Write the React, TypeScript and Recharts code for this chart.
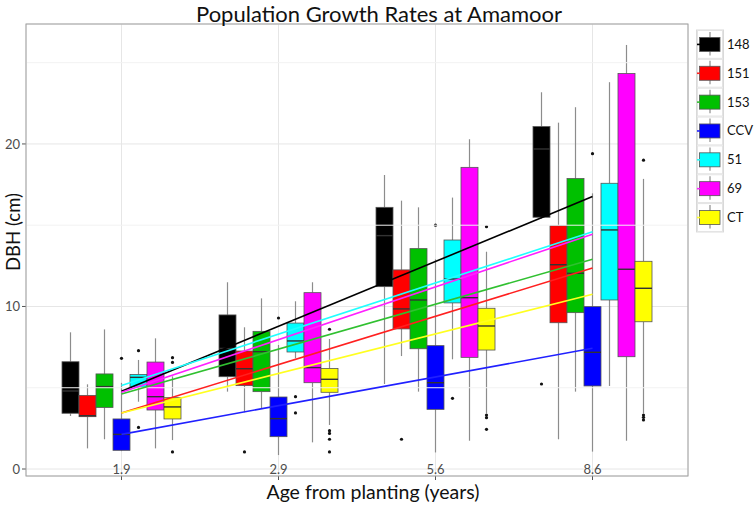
import React from 'react';
import {
  ComposedChart,
  Bar,
  Line,
  XAxis,
  YAxis,
  CartesianGrid,
  ReferenceLine,
} from 'recharts';

const ages = ['1.9', '2.9', '5.6', '8.6'];
const populations = ['148', '151', '153', 'CCV', '51', '69', 'CT'];
const boxColors = ['#000000', '#ff0000', '#00c000', '#0000ff', '#00ffff', '#ff00ff', '#ffff00'];
const lineColors = ['#000000', '#ff2020', '#30c030', '#2020ff', '#20ffff', '#ff20ff', '#ffff20'];

// [lower whisker, q1, median, q3, upper whisker] per age
const stats148 = [[3.26, 3.43, 4.8, 6.6, 8.41], [4.76, 5.68, 7.42, 9.48, 11.49], [5.23, 11.22, 14.36, 16.1, 18.09], [15.4, 15.49, 19.69, 21.07, 23.18]];
const stats151 = [[1.27, 3.22, 3.28, 4.53, 5.21], [3.49, 5.13, 6.17, 7.26, 8.72], [6.95, 8.62, 9.85, 12.25, 16.51], [1.83, 9.0, 12.57, 14.97, 21.31]];
const stats153 = [[1.83, 3.79, 5.07, 5.85, 8.59], [3.73, 4.76, 7.22, 8.47, 10.5], [4.76, 7.4, 10.4, 13.56, 16.1], [4.76, 9.62, 12.04, 17.87, 22.26]];
const statsCCV = [[1.1, 1.15, 2.13, 3.08, 5.3], [0.86, 1.99, 3.1, 4.43, 7.63], [1.02, 3.67, 5.31, 7.59, 12.9], [1.07, 5.11, 7.18, 9.99, 16.96]];
const stats51 = [[4.14, 5.03, 5.64, 5.82, 6.71], [6.81, 7.2, 7.88, 8.98, 10.32], [6.75, 10.22, 11.69, 14.09, 16.7], [5.11, 10.4, 14.71, 17.58, 23.8]];
const stats69 = [[1.27, 3.63, 4.45, 6.58, 8.04], [1.64, 5.31, 6.24, 10.85, 11.49], [1.74, 6.87, 10.54, 18.56, 20.29], [1.74, 6.91, 12.29, 24.33, 26.09]];
const statsCT = [[1.78, 3.08, 3.82, 4.39, 5.7], [2.71, 4.72, 5.52, 6.19, 8.0], [3.43, 7.32, 8.8, 9.89, 13.37], [3.43, 9.06, 11.12, 12.78, 17.85]];

const out148 = [[], [], [], [5.23]];
const out151 = [[], [1.05], [1.83], []];
const out153 = [[], [], [], []];
const outCCV = [[6.81], [9.29], [15.0], [19.4]];
const out51 = [[7.28, 2.56], [4.45, 3.45], [4.35], []];
const out69 = [[], [], [], []];
const outCT = [[6.85, 6.56, 1.05], [8.6, 2.36, 2.19, 1.83, 1.05], [14.91, 3.32, 3.16, 2.44], [19.0, 3.32, 3.18, 3.02]];

// fitted trend line at first and last age
const fitStart = [4.79, 3.45, 4.61, 2.13, 5.14, 4.72, 3.45];
const fitEnd = [16.76, 12.37, 12.9, 7.43, 14.6, 14.45, 10.75];

const allStats = [stats148, stats151, stats153, statsCCV, stats51, stats69, statsCT];
const allOutliers = [out148, out151, out153, outCCV, out51, out69, outCT];

const yTicks = [0, 10, 20];
const yMinor = [5, 15, 25];

const data = ages.map((age, i) => {
  const row: any = { age };
  populations.forEach((p, j) => {
    const s = allStats[j][i];
    row[p] = [s[1], s[3]];
    row['s' + p] = s;
    row['o' + p] = allOutliers[j][i];
    row['fit' + p] = i === 0 ? fitStart[j] : i === ages.length - 1 ? fitEnd[j] : null;
  });
  return row;
});

const makeBox = (p: string) => (props: any) => {
  const { x, y, width, height, fill, payload } = props;
  const s = payload['s' + p];
  const outs: number[] = payload['o' + p];
  const top = Math.min(y, y + height);
  const h = Math.abs(height);
  const k = h / (s[3] - s[1]);
  const py = (v: number) => top + (s[3] - v) * k;
  const cx = x + width / 2;
  return (
    <g>
      <line x1={cx} x2={cx} y1={py(s[4])} y2={top} stroke="#8c8c8c" strokeWidth={1.2} />
      <line x1={cx} x2={cx} y1={top + h} y2={py(s[0])} stroke="#8c8c8c" strokeWidth={1.2} />
      <rect x={x} y={top} width={width} height={h} fill={fill} stroke="#555" strokeWidth={0.8} />
      <line x1={x} x2={x + width} y1={py(s[2])} y2={py(s[2])} stroke="#333" strokeWidth={1.4} />
      {outs.map((v, i) => (
        <circle key={i} cx={cx} cy={py(v)} r={1.6} fill="#111" />
      ))}
    </g>
  );
};

const XTick = (props: any) => {
  const { x, y, payload } = props;
  return (
    <text x={x} y={y} dy={-8} textAnchor="middle" fontSize={13} fill="#4d4d4d" fontFamily="Lato">
      {payload.value}
    </text>
  );
};

const FONT = 'Lato, "DejaVu Sans", sans-serif';

export default function App() {
  const cellH = 28.85;
  return (
    <div style={{ position: 'absolute', left: 0, top: 0, width: 755, height: 506, background: '#fff' }}>
      <ComposedChart
        width={755}
        height={506}
        data={data}
        margin={{ top: 24, right: 67, bottom: 0, left: 0 }}
        barGap={0}
      >
        <CartesianGrid stroke="#e6e6e6" />
        {yMinor.map((v) => (
          <ReferenceLine key={v} y={v} stroke="#f2f2f2" />
        ))}
        <XAxis
          dataKey="age"
          padding={{ left: 17, right: 17 }}
          height={30}
          axisLine={false}
          tickSize={4}
          tickLine={{ stroke: '#555' }}
          tick={<XTick />}
        />
        <YAxis
          type="number"
          domain={[-0.43, 27.38]}
          allowDataOverflow
          ticks={yTicks}
          width={26}
          axisLine={false}
          tickSize={4}
          tickMargin={2}
          tickLine={{ stroke: '#555' }}
          tick={{ fontSize: 13, fill: '#4d4d4d', fontFamily: FONT }}
        />
        {populations.map((p, j) => (
          <Bar
            key={p}
            dataKey={p}
            fill={boxColors[j]}
            barSize={17}
            shape={makeBox(p)}
            isAnimationActive={false}
          />
        ))}
        {populations.map((p, j) => (
          <Line
            key={'fit' + p}
            dataKey={'fit' + p}
            stroke={lineColors[j]}
            strokeWidth={1.6}
            dot={false}
            connectNulls
            isAnimationActive={false}
          />
        ))}
      </ComposedChart>
      <svg
        width={755}
        height={506}
        style={{ position: 'absolute', left: 0, top: 0, pointerEvents: 'none' }}
        fontFamily={FONT}
      >
        <rect x={26} y={24} width={662} height={452} fill="none" stroke="#a0a0a0" strokeWidth={1} />
        <text x={379} y={21.5} textAnchor="middle" fontSize={22} fill="#111">
          Population Growth Rates at Amamoor
        </text>
        <text x={373} y={499} textAnchor="middle" fontSize={19.5} fill="#111">
          Age from planting (years)
        </text>
        <text transform="translate(19.5,232) rotate(-90)" textAnchor="middle" fontSize={18.5} fill="#111">
          DBH (cm)
        </text>
        <rect x={696.5} y={30} width={27} height={cellH * 7} fill="#fff" stroke="#d9d9d9" />
        {populations.map((p, j) => {
          const cy = 30 + cellH * j + cellH / 2;
          return (
            <g key={p}>
              <rect x={697.5} y={30.5 + cellH * j} width={25} height={cellH - 1} fill="#fff" stroke="#e3e3e3" />
              <line x1={710} x2={710} y1={30 + cellH * j + 2} y2={cy + 11} stroke="#8c8c8c" strokeWidth={1.2} />
              <rect x={699.5} y={cy - 7} width={20.5} height={14} fill={boxColors[j]} stroke="#555" strokeWidth={0.8} />
              <line x1={697} x2={700} y1={cy} y2={cy} stroke={lineColors[j]} strokeWidth={1.6} />
              <text x={727} y={cy} dy={4.5} fontSize={13} fill="#111">
                {p}
              </text>
            </g>
          );
        })}
      </svg>
    </div>
  );
}
